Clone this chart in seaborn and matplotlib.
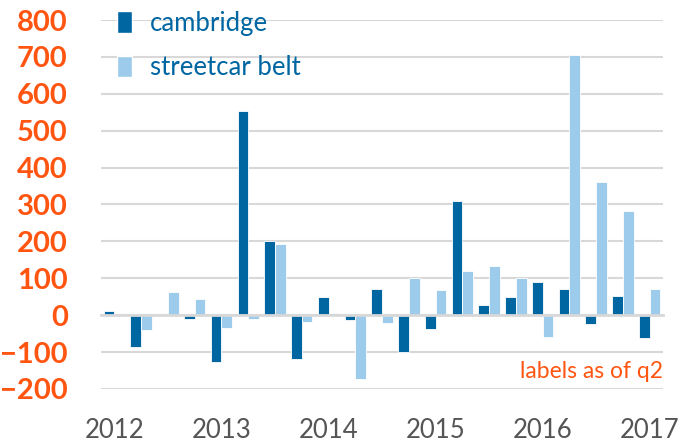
import seaborn as sns
import numpy as np
import pandas as pd
import matplotlib.pyplot as plt
from matplotlib.patches import Patch
from matplotlib.ticker import FixedLocator

# quarterly change, 2012 q2 .. 2017 q2
quarters = ["2012q2", "2012q3", "2012q4", "2013q1", "2013q2", "2013q3", "2013q4",
            "2014q1", "2014q2", "2014q3", "2014q4", "2015q1", "2015q2", "2015q3",
            "2015q4", "2016q1", "2016q2", "2016q3", "2016q4", "2017q1", "2017q2"]
cambridge = [12, -86, 4, -11, -126, 553, 201, -120, 48, -14, 71,
             -101, -38, 309, 28, 48, 89, 71, -24, 51, -61]
streetcar = [0, -41, 63, 45, -34, -10, 192, -18, 7, -173, -20,
             101, 68, 119, 132, 102, -59, 705, 360, 283, 72]
year_labels = ["2012", "2013", "2014", "2015", "2016", "2017"]

dark_blue = "#0066a1"
light_blue = "#9ccbeb"
orange = "#ff5511"
grid_col = "#d8d8d8"

sns.set_style("white")
plt.rcParams['font.family'] = ['Lato', 'DejaVu Sans']

df = pd.DataFrame({
  "quarter": quarters * 2,
  "value": cambridge + streetcar,
  "area": ["cambridge"] * len(quarters) + ["streetcar belt"] * len(quarters),
})

fig = plt.figure(figsize=(6.78, 4.45), dpi=100)
ax = fig.add_axes([0.149, 0.126, 0.829, 0.829])

sns.barplot(data=df, x="quarter", y="value", hue="area", order=quarters,
  palette=[dark_blue, light_blue], saturation=1, width=0.8, edgecolor="white",
  linewidth=0.6, legend=False, ax=ax)

ax.set_ylim(-200, 800)
ax.set_xlim(-0.5, len(quarters) - 0.5)
ax.set_yticks(range(-200, 801, 100))
ax.yaxis.grid(True, color=grid_col, linewidth=1.5)
ax.set_axisbelow(True)
ax.tick_params(axis="y", length=0, pad=24, labelsize=21, labelcolor=orange)
for lab in ax.get_yticklabels():
  lab.set_fontweight("bold")

for s in ["top", "right", "left"]:
  ax.spines[s].set_visible(False)
ax.spines["bottom"].set_position(("data", 0))
ax.spines["bottom"].set_color(grid_col)
ax.spines["bottom"].set_linewidth(2)

ax.set_xticks(np.arange(0, len(quarters), 4))
ax.set_xticklabels(year_labels)
ax.xaxis.set_minor_locator(FixedLocator(np.arange(-0.5, len(quarters), 1)))
ax.tick_params(axis="x", which="major", length=0, pad=74, labelsize=18.5,
  labelcolor="#555555")
ax.tick_params(axis="x", which="minor", length=7, width=1.5, color=grid_col,
  direction="out")
ax.set_xlabel("")
ax.set_ylabel("")

ax.text(1.0, 0.046, "labels as of q2", transform=ax.transAxes, ha="right",
  va="center", color=orange, fontsize=16.5)

handles = [Patch(facecolor=dark_blue, label="cambridge"),
  Patch(facecolor=light_blue, label="streetcar belt")]
leg = ax.legend(handles=handles, loc="upper left", bbox_to_anchor=(0.028, 1.025),
  frameon=False, fontsize=18.5, handlelength=0.6, handleheight=0.9,
  handletextpad=0.7, labelspacing=0.75, borderpad=0, borderaxespad=0,
  labelcolor=dark_blue)

plt.savefig("out.png", dpi=100)
